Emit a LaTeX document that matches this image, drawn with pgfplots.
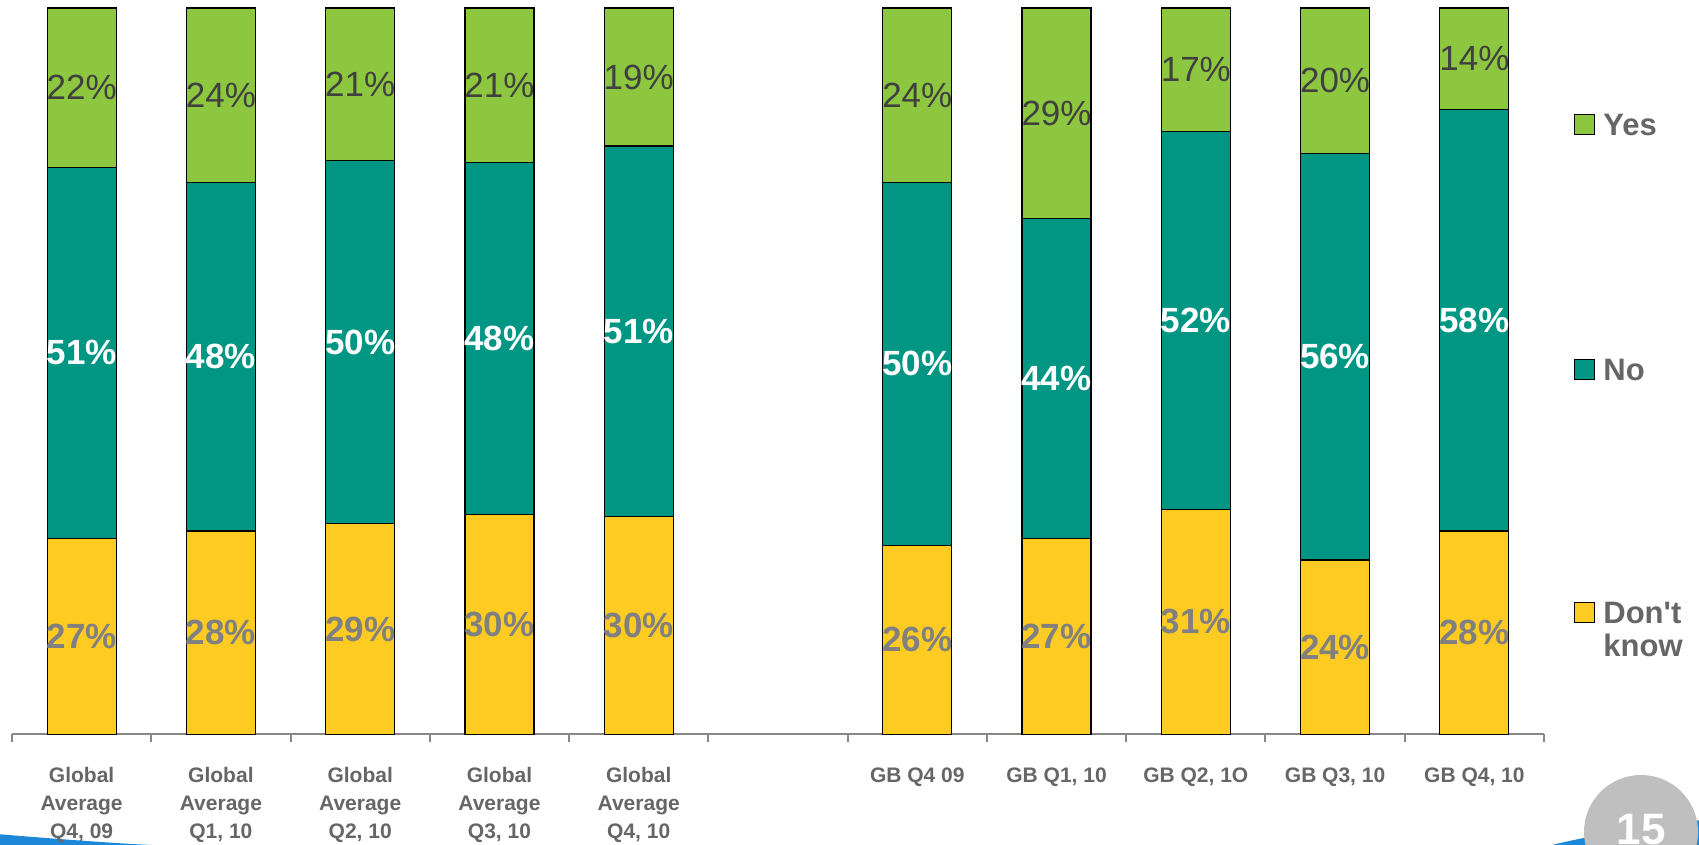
\documentclass[border=0pt]{standalone}
\usepackage{pgfplots}
\pgfplotsset{compat=1.18}
\usepackage{pgfplotstable}
\usepackage{fontspec}
\setmainfont{Liberation Sans}
\definecolor{cyes}{HTML}{8DC63F}
\definecolor{cno}{HTML}{009684}
\definecolor{cdk}{HTML}{FDCB22}
\definecolor{lblgray}{HTML}{666666}
\definecolor{axgray}{HTML}{878787}
\definecolor{darktxt}{HTML}{404040}
\definecolor{dkgray}{HTML}{808080}
\definecolor{swoosh}{HTML}{1E88D8}
\definecolor{badge}{HTML}{BFBFBF}
\pgfplotstableread{
x dk no yes
0 27 51 22
1 28 48 24
2 29 50 21
3 30.3 48.4 21.3
4 30 51 19
6 26 50 24
7 27 44 29
8 31 52 17
9 24 56 20
10 28 58 14
}\data
\begin{document}
\begin{tikzpicture}[x=1pt,y=1pt]
\useasboundingbox (-6,-55.35) rectangle (843.5,367.15);
% decorative swooshes
\fill[swoosh] (-6,-50) .. controls (30,-53) and (60,-55) .. (70,-55.35) -- (-6,-55.35) -- cycle;
\fill[swoosh] (770,-55.35) .. controls (800,-48) and (830,-45) .. (843.5,-43) -- (843.5,-55.35) -- cycle;
\begin{axis}[
  at={(0,0)}, anchor=south west, scale only axis,
  width=766pt, height=363.15pt,
  ybar stacked, bar width=34.5pt,
  xmin=-0.5, xmax=10.5, ymin=0, ymax=100,
  axis x line*=bottom, axis y line=none,
  x axis line style={axgray, line width=1pt},
  xtick={0,1,2,3,4,6,7,8,9,10},
  xticklabels={{Global\\Average\\Q4, 09},{Global\\Average\\Q1, 10},{Global\\Average\\Q2, 10},{Global\\Average\\Q3, 10},{Global\\Average\\Q4, 10},{GB Q4 09},{GB Q1, 10},{GB Q2, 1O},{GB Q3, 10},{GB Q4, 10}},
  major tick length=0pt,
  minor xtick={-0.5,0.5,...,10.5},
  minor tick length=4pt,
  tick align=outside,
  minor tick style={axgray, line width=1pt},
  xticklabel style={align=center, font=\bfseries\fontsize{10.5}{14}\selectfont, text=lblgray, yshift=-13pt},
  clip=false,
  /pgf/number format/assume math mode=true,
  point meta=explicit,
  nodes near coords={\pgfmathprintnumber[fixed,precision=0]{\pgfplotspointmeta}\%},
  every node near coord/.append style={anchor=center, inner sep=0pt},
]
\addplot[fill=cdk, draw=black, line width=0.6pt,
  nodes near coords style={font=\bfseries\fontsize{17.5}{18}\selectfont, text=dkgray}]
  table[x=x, y=dk, meta=dk] {\data};
\addplot[fill=cno, draw=black, line width=0.6pt,
  nodes near coords style={font=\bfseries\fontsize{17.5}{18}\selectfont, text=white}]
  table[x=x, y=no, meta=no] {\data};
\addplot[fill=cyes, draw=black, line width=0.6pt,
  nodes near coords style={font=\fontsize{17.5}{18}\selectfont, text=darktxt}]
  table[x=x, y=yes, meta=yes] {\data};
\end{axis}
% legend
\filldraw[fill=cyes, draw=black, line width=0.5pt] (781,299.65) rectangle (791,309.65);
\node[anchor=base west, inner sep=0, font=\bfseries\fontsize{15.5}{16.5}\selectfont, text=lblgray] at (795.5,299.15) {Yes};
\filldraw[fill=cno, draw=black, line width=0.5pt] (781,177.15) rectangle (791,187.15);
\node[anchor=base west, inner sep=0, font=\bfseries\fontsize{15.5}{16.5}\selectfont, text=lblgray] at (795.5,176.65) {No};
\filldraw[fill=cdk, draw=black, line width=0.5pt] (781,55.65) rectangle (791,65.65);
\node[anchor=base west, inner sep=0, font=\bfseries\fontsize{15.5}{16.5}\selectfont, text=lblgray] at (795.5,55.15) {Don\textquotesingle t};
\node[anchor=base west, inner sep=0, font=\bfseries\fontsize{15.5}{16.5}\selectfont, text=lblgray] at (795.5,38.65) {know};
% page badge
\fill[badge] (814.5,-48.85) circle (28.5);
\node[anchor=base, inner sep=0, font=\bfseries\fontsize{22}{24}\selectfont, text=white] at (814.5,-55) {15};
\end{tikzpicture}
\end{document}
